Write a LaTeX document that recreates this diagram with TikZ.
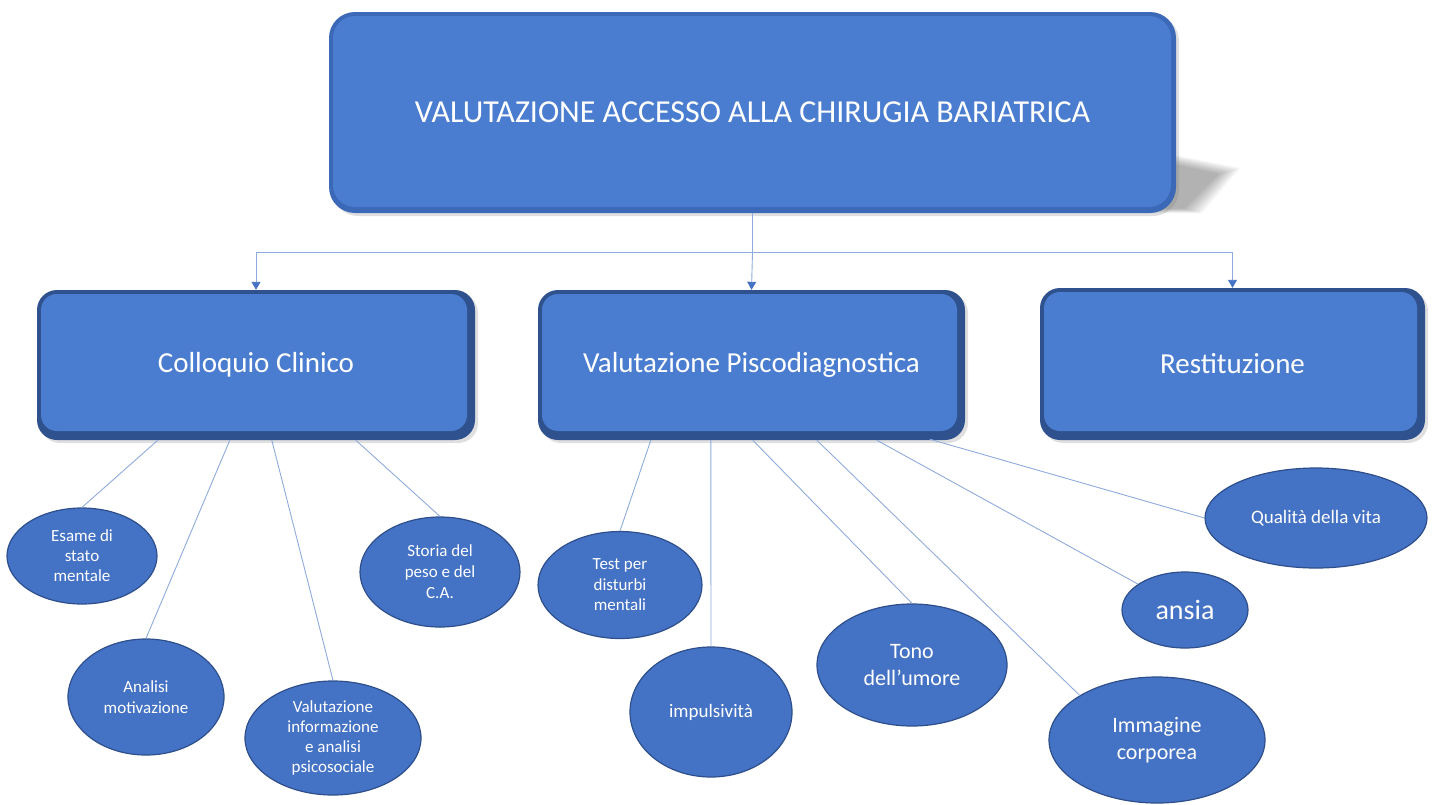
\documentclass[tikz,border=0pt]{standalone}
\usepackage{fontspec}
\setmainfont{Carlito}
\usetikzlibrary{shapes.geometric, arrows.meta, calc, shadows}

\definecolor{boxfill}{HTML}{4A7DD0}
\definecolor{boxedge}{HTML}{2F528F}
\definecolor{topedge}{HTML}{3C68B8}
\definecolor{ellfill}{HTML}{4472C4}
\definecolor{ellrim}{HTML}{2E4F8C}
\definecolor{linkblue}{HTML}{8FAADC}
\definecolor{tipblue}{HTML}{4472C4}

\newcommand{\fz}[2]{\fontsize{#1}{#2}\selectfont}

\tikzset{
  bevelbox/.style={rectangle, rounded corners=20pt, fill=boxedge, text=white,
    inner sep=0pt, align=center,
    drop shadow={shadow xshift=3pt, shadow yshift=-3pt, opacity=0.25},
    path picture={\fill[boxfill, rounded corners=16pt]
      ([shift={(4pt,9pt)}]path picture bounding box.south west) rectangle
      ([shift={(-8pt,-4pt)}]path picture bounding box.north east);}},
  ell/.style={ellipse, fill=ellfill, draw=ellrim, line width=1.2pt, text=white,
    inner sep=0pt, align=center},
  link/.style={draw=linkblue, line width=0.9pt},
  arrowlink/.style={link, -{Triangle[width=9pt, length=8pt, color=tipblue]}}
}

\begin{document}
\begin{tikzpicture}[x=1pt, y=-1pt]
    \useasboundingbox (0,0) rectangle (1440,804);

    % shadow of the title box
    \foreach \s in {0,2,...,18}
        \fill[black, opacity=0.035] (1150,150+\s/2) -- (1240-\s*1.2,168+\s/3) -- (1202-\s,213-\s/4) -- (1150,213-\s/4) -- cycle;

    % title
    \node[bevelbox, rounded corners=26pt, fill=topedge, minimum width=847pt, minimum height=201pt,
        drop shadow={opacity=0}, font=\fz{32}{38},
        path picture={\fill[boxfill, rounded corners=22pt]
          ([shift={(4pt,6pt)}]path picture bounding box.south west) rectangle
          ([shift={(-5pt,-4pt)}]path picture bounding box.north east);}] (top) at (752.5,112.5)
        {VALUTAZIONE ACCESSO ALLA CHIRUGIA BARIATRICA};

    % second level
    \node[bevelbox, minimum width=438pt, minimum height=150pt, font=\fz{29}{35}] (cc) at (256,365) {Colloquio Clinico};
    \node[bevelbox, minimum width=427pt, minimum height=150pt, font=\fz{29}{35}] (vp) at (751.5,365) {Valutazione Piscodiagnostica};
    \node[bevelbox, minimum width=385pt, minimum height=152pt, font=\fz{29}{35}] (rs) at (1232.5,364) {Restituzione};

    \draw[link] (top.south) -- ++(0,39) coordinate (hub);
    \draw[arrowlink] (hub) -| (cc.north);
    \draw[arrowlink] (hub) -- (vp.north);
    \draw[arrowlink] (hub) -| (rs.north);

    % Colloquio Clinico
    \node[ell, minimum width=150pt, minimum height=96pt, font=\fz{17}{20}] (es) at (82,556) {Esame di\\stato\\mentale};
    \node[ell, minimum width=156pt, minimum height=116pt, font=\fz{17}{21}] (am) at (146,697) {Analisi\\motivazione};
    \node[ell, minimum width=176pt, minimum height=114pt, font=\fz{17}{20}] (vi) at (333,738)
        {Valutazione\\informazione\\e analisi\\psicosociale};
    \node[ell, minimum width=160pt, minimum height=110pt, font=\fz{17}{21}] (sp) at (440,572) {Storia del\\peso e del\\C.A.};

    \draw[link] ($(cc.south west)+(121,0)$) -- (es.north);
    \draw[link] ($(cc.south west)+(193,0)$) -- (am.north);
    \draw[link] ($(cc.south west)+(235,0)$) -- (vi.north);
    \draw[link] ($(cc.south west)+(319,0)$) -- (sp.north);

    % Valutazione Piscodiagnostica
    \node[ell, minimum width=164pt, minimum height=107pt, font=\fz{17}{20.5}] (tp) at (620,585) {Test per\\disturbi\\mentali};
    \node[ell, minimum width=162pt, minimum height=130pt, font=\fz{19}{23}] (im) at (711,712) {impulsività};
    \node[ell, minimum width=190pt, minimum height=122pt, font=\fz{22}{27}] (tu) at (912,665) {Tono\\dell’umore};
    \node[ell, minimum width=216pt, minimum height=126pt, font=\fz{22}{27}] (ic) at (1157,740) {Immagine\\corporea};
    \node[ell, minimum width=126pt, minimum height=76pt, font=\fz{28}{34}] (an) at (1185,610) {ansia};
    \node[ell, minimum width=222pt, minimum height=100pt, font=\fz{19}{23}] (qv) at (1316,518) {Qualità della vita};

    \draw[link] ($(vp.south west)+(113,0)$) -- (tp.north);
    \draw[link] ($(vp.south west)+(173,0)$) -- (im.north);
    \draw[link] ($(vp.south west)+(215,0)$) -- (tu.north);
    \draw[link] ($(vp.south west)+(279,0)$) -- (ic.150);
    \draw[link] ($(vp.south west)+(339,0)$) -- (an);
    \draw[link] ($(vp.south west)+(392,-1)$) -- (qv.west);
\end{tikzpicture}
\end{document}
